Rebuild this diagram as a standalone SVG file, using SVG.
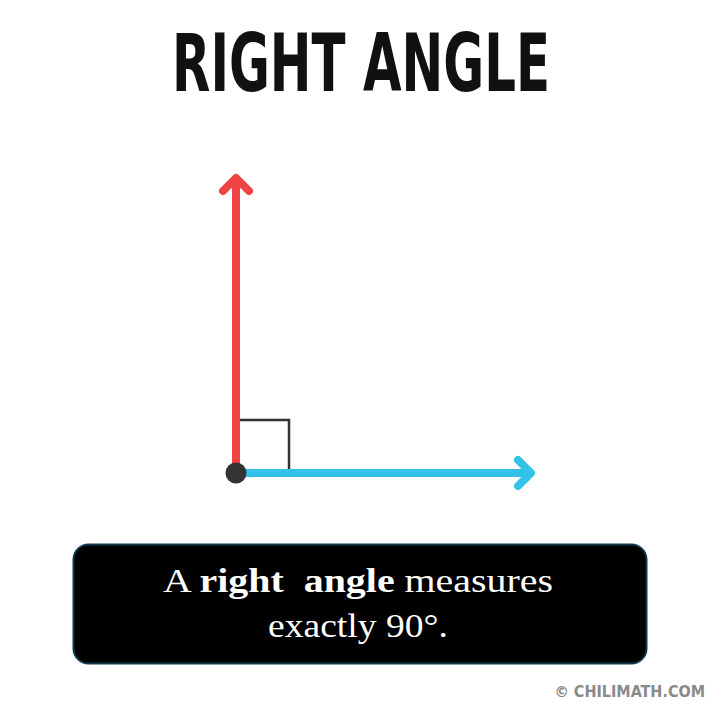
<svg xmlns="http://www.w3.org/2000/svg" width="720" height="720" viewBox="0 0 720 720">
<style>
.title{font-family:"Liberation Sans Narrow","DejaVu Sans Condensed","Liberation Sans",sans-serif;font-weight:bold;font-size:80px;fill:#111}
.cap{font-family:"Liberation Serif","DejaVu Serif",serif;font-size:34px;fill:#fff;white-space:pre}
.foot{font-family:"DejaVu Sans Condensed","Liberation Sans",sans-serif;font-weight:bold;font-size:16px;fill:#8a8a8a}
</style>
<rect width="720" height="720" fill="#fff"/>
<text class="title" x="361" y="91" text-anchor="middle" textLength="378" lengthAdjust="spacingAndGlyphs">RIGHT ANGLE</text>
<g id="connectors" stroke-linecap="round" stroke-linejoin="round" fill="none">
  <g id="ray-vertical">
    <line x1="236" y1="473" x2="236" y2="180" stroke="#ef4444" stroke-width="8"/>
    <polyline points="223,191 236,178 249,191" stroke="#ef4444" stroke-width="8"/>
  </g>
  <g id="ray-horizontal">
    <line x1="236" y1="473" x2="529" y2="473" stroke="#33c2e8" stroke-width="8"/>
    <polyline points="518,460 531,473 518,486" stroke="#33c2e8" stroke-width="8"/>
  </g>
  <polyline id="right-mark" points="240,420 289,420 289,469" stroke="#333" stroke-width="2.5" stroke-linecap="butt" stroke-linejoin="miter"/>
</g>
<g id="vertex"><circle cx="236" cy="473" r="10.5" fill="#333"/></g>
<g id="caption">
  <rect x="73.5" y="544.5" width="573" height="119" rx="15" fill="#000" stroke="#0d3a4c" stroke-width="2"/>
  <text class="cap" xml:space="preserve" x="358" y="592" text-anchor="middle" textLength="390" lengthAdjust="spacingAndGlyphs">A <tspan font-weight="bold">right  angle</tspan> measures</text>
  <text class="cap" x="358" y="637" text-anchor="middle" textLength="180" lengthAdjust="spacingAndGlyphs">exactly 90°.</text>
</g>
<text class="foot" x="705" y="697" text-anchor="end">© CHILIMATH.COM</text>
</svg>
